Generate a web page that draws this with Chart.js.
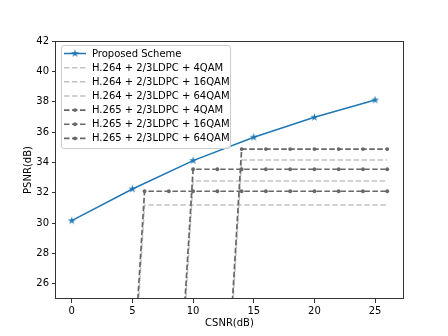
<!DOCTYPE html>
<html>
<head>
<meta charset="utf-8">
<script src="https://cdn.jsdelivr.net/npm/chart.js@4/dist/chart.umd.min.js"></script>
<style>
  html, body { margin: 0; padding: 0; background: #fff; }
  canvas { display: block; }
</style>
</head>
<body>
<canvas id="chart" width="448" height="336"></canvas>
<script>
// values
const seriesNames = [
    'Proposed Scheme',
    'H.264 + 2/3LDPC + 4QAM',
    'H.264 + 2/3LDPC + 16QAM',
    'H.264 + 2/3LDPC + 64QAM',
    'H.265 + 2/3LDPC + 4QAM',
    'H.265 + 2/3LDPC + 16QAM',
    'H.265 + 2/3LDPC + 64QAM'];

const proposedX = [0, 5, 10, 15, 20, 25];
const proposedY = [30.16, 32.25, 34.12, 35.66, 36.97, 38.11];

const qam4X  = [5, 6, 8, 10, 12, 14, 16, 18, 20, 22, 24, 26];
const qam16X = [9, 10, 12, 14, 16, 18, 20, 22, 24, 26];
const qam64X = [13, 14, 16, 18, 20, 22, 24, 26];

const h264Qam4Y  = [18.3, 31.2, 31.2, 31.2, 31.2, 31.2, 31.2, 31.2, 31.2, 31.2, 31.2, 31.2];
const h264Qam16Y = [19.8, 32.78, 32.78, 32.78, 32.78, 32.78, 32.78, 32.78, 32.78, 32.78];
const h264Qam64Y = [21.0, 34.16, 34.16, 34.16, 34.16, 34.16, 34.16, 34.16];

const h265Qam4Y  = [19.2, 32.1, 32.1, 32.1, 32.1, 32.1, 32.1, 32.1, 32.1, 32.1, 32.1, 32.1];
const h265Qam16Y = [20.6, 33.55, 33.55, 33.55, 33.55, 33.55, 33.55, 33.55, 33.55, 33.55];
const h265Qam64Y = [21.7, 34.88, 34.88, 34.88, 34.88, 34.88, 34.88, 34.88];

const xTickStep = 5;
const yTickStep = 2;

const FONT = "'DejaVu Sans', sans-serif";
const BLUE = '#1f77b4';
const DARK = '#686868';
const LIGHT = '#c4c4c4';

function toPoints(xs, ys) {
    let pts = [];
    for (let i = 0; i < xs.length; ++i) {
        pts.push({x: xs[i], y: ys[i]});
    }
    return pts;
}

// filled five point star like matplotlib's '*'
function makeStar(color, r) {
    const c = document.createElement('canvas');
    const size = Math.ceil(r * 2 + 2);
    c.width = size;
    c.height = size;
    const g = c.getContext('2d');
    const cx = size / 2, cy = size / 2;
    g.beginPath();
    for (let i = 0; i < 10; ++i) {
        const rad = i % 2 === 0 ? r : r * 0.38;
        const a = -Math.PI / 2 + i * Math.PI / 5;
        const px = cx + rad * Math.cos(a);
        const py = cy + rad * Math.sin(a);
        if (i === 0) g.moveTo(px, py); else g.lineTo(px, py);
    }
    g.closePath();
    g.fillStyle = color;
    g.fill();
    return c;
}
const star = makeStar(BLUE, 4.2);

function h264(i, ys, xs) {
    return {label: seriesNames[i], data: toPoints(xs, ys),
            borderColor: LIGHT, borderWidth: 1.5, borderDash: [5.5, 2.5],
            pointRadius: 0, order: 1, clip: 0};
}
function h265(i, ys, xs) {
    return {label: seriesNames[i], data: toPoints(xs, ys),
            borderColor: DARK, borderWidth: 1.7, borderDash: [5.5, 2.5],
            pointStyle: 'circle', pointRadius: 1.9, pointBackgroundColor: DARK,
            pointBorderColor: DARK, pointBorderWidth: 0, order: 0, clip: 0};
}

const datasets = [
    {label: seriesNames[0], data: toPoints(proposedX, proposedY),
     borderColor: BLUE, borderWidth: 1.5, pointStyle: star,
     pointRadius: 4, order: 2, clip: 0},
    h264(1, h264Qam4Y, qam4X),
    h264(2, h264Qam16Y, qam16X),
    h264(3, h264Qam64Y, qam64X),
    h265(4, h265Qam4Y, qam4X),
    h265(5, h265Qam16Y, qam16X),
    h265(6, h265Qam64Y, qam64X)];

// top/right spines plus matplotlib style legend
const framePlugin = {
    id: 'frame',
    afterDraw(chart) {
        const ctx = chart.ctx;
        const a = chart.chartArea;
        ctx.save();
        ctx.strokeStyle = '#333';
        ctx.lineWidth = 1;
        ctx.strokeRect(Math.round(a.left) - 0.5, Math.round(a.top) + 0.5,
                       Math.round(a.right - a.left) + 1, Math.round(a.bottom - a.top) - 1);

        // legend box
        const bx = 61.5, by = 45.5, bw = 169, bh = 103, rr = 2.5;
        ctx.beginPath();
        ctx.moveTo(bx + rr, by);
        ctx.arcTo(bx + bw, by, bx + bw, by + bh, rr);
        ctx.arcTo(bx + bw, by + bh, bx, by + bh, rr);
        ctx.arcTo(bx, by + bh, bx, by, rr);
        ctx.arcTo(bx, by, bx + bw, by, rr);
        ctx.closePath();
        ctx.fillStyle = 'rgba(255,255,255,0.8)';
        ctx.fill();
        ctx.strokeStyle = '#cccccc';
        ctx.stroke();

        ctx.font = '10px ' + FONT;
        ctx.textBaseline = 'middle';
        ctx.textAlign = 'left';
        chart.data.datasets.forEach(function(ds, i) {
            const y = 53.5 + i * 14.15;
            ctx.setLineDash(ds.borderDash || []);
            ctx.strokeStyle = ds.borderColor;
            ctx.lineWidth = ds.borderWidth;
            ctx.beginPath();
            ctx.moveTo(64, y);
            ctx.lineTo(86, y);
            ctx.stroke();
            ctx.setLineDash([]);
            if (ds.pointStyle === star) {
                ctx.drawImage(star, 75 - star.width / 2, y - star.height / 2);
            } else if (ds.pointRadius > 0) {
                ctx.fillStyle = ds.pointBackgroundColor;
                ctx.beginPath();
                ctx.arc(75, y, ds.pointRadius, 0, Math.PI * 2);
                ctx.fill();
            }
            ctx.fillStyle = '#000';
            ctx.fillText(ds.label, 92, y + 0.5);
        });
        ctx.restore();
    }
};

Chart.defaults.font.family = FONT;
Chart.defaults.font.size = 10;
Chart.defaults.color = '#000';

const chart = new Chart(document.getElementById('chart'), {
    type: 'line',
    data: {datasets: datasets},
    options: {
        responsive: false,
        animation: false,
        devicePixelRatio: 1,
        layout: {padding: {top: 41, right: 45, left: 0, bottom: 0}},
        plugins: {legend: {display: false}, tooltip: {enabled: false}},
        elements: {line: {tension: 0}},
        scales: {
            x: {
                type: 'linear', min: -1.3, max: 27.3,
                afterFit: function(scale) { scale.height = 37; },
                border: {display: false},
                grid: {drawOnChartArea: false, drawTicks: true, tickLength: 4, color: '#333'},
                ticks: {stepSize: xTickStep, includeBounds: false, padding: 2, maxRotation: 0},
                title: {display: true, text: 'CSNR(dB)', padding: {top: 0, bottom: 7}}
            },
            y: {
                type: 'linear', min: 25, max: 42,
                afterFit: function(scale) { scale.width = 56; },
                border: {display: false},
                grid: {drawOnChartArea: false, drawTicks: true, tickLength: 4, color: '#333'},
                ticks: {stepSize: yTickStep, includeBounds: false, padding: 3},
                title: {display: true, text: 'PSNR(dB)', padding: {top: 22, bottom: 0}}
            }
        }
    },
    plugins: [framePlugin]
});
</script>
</body>
</html>
